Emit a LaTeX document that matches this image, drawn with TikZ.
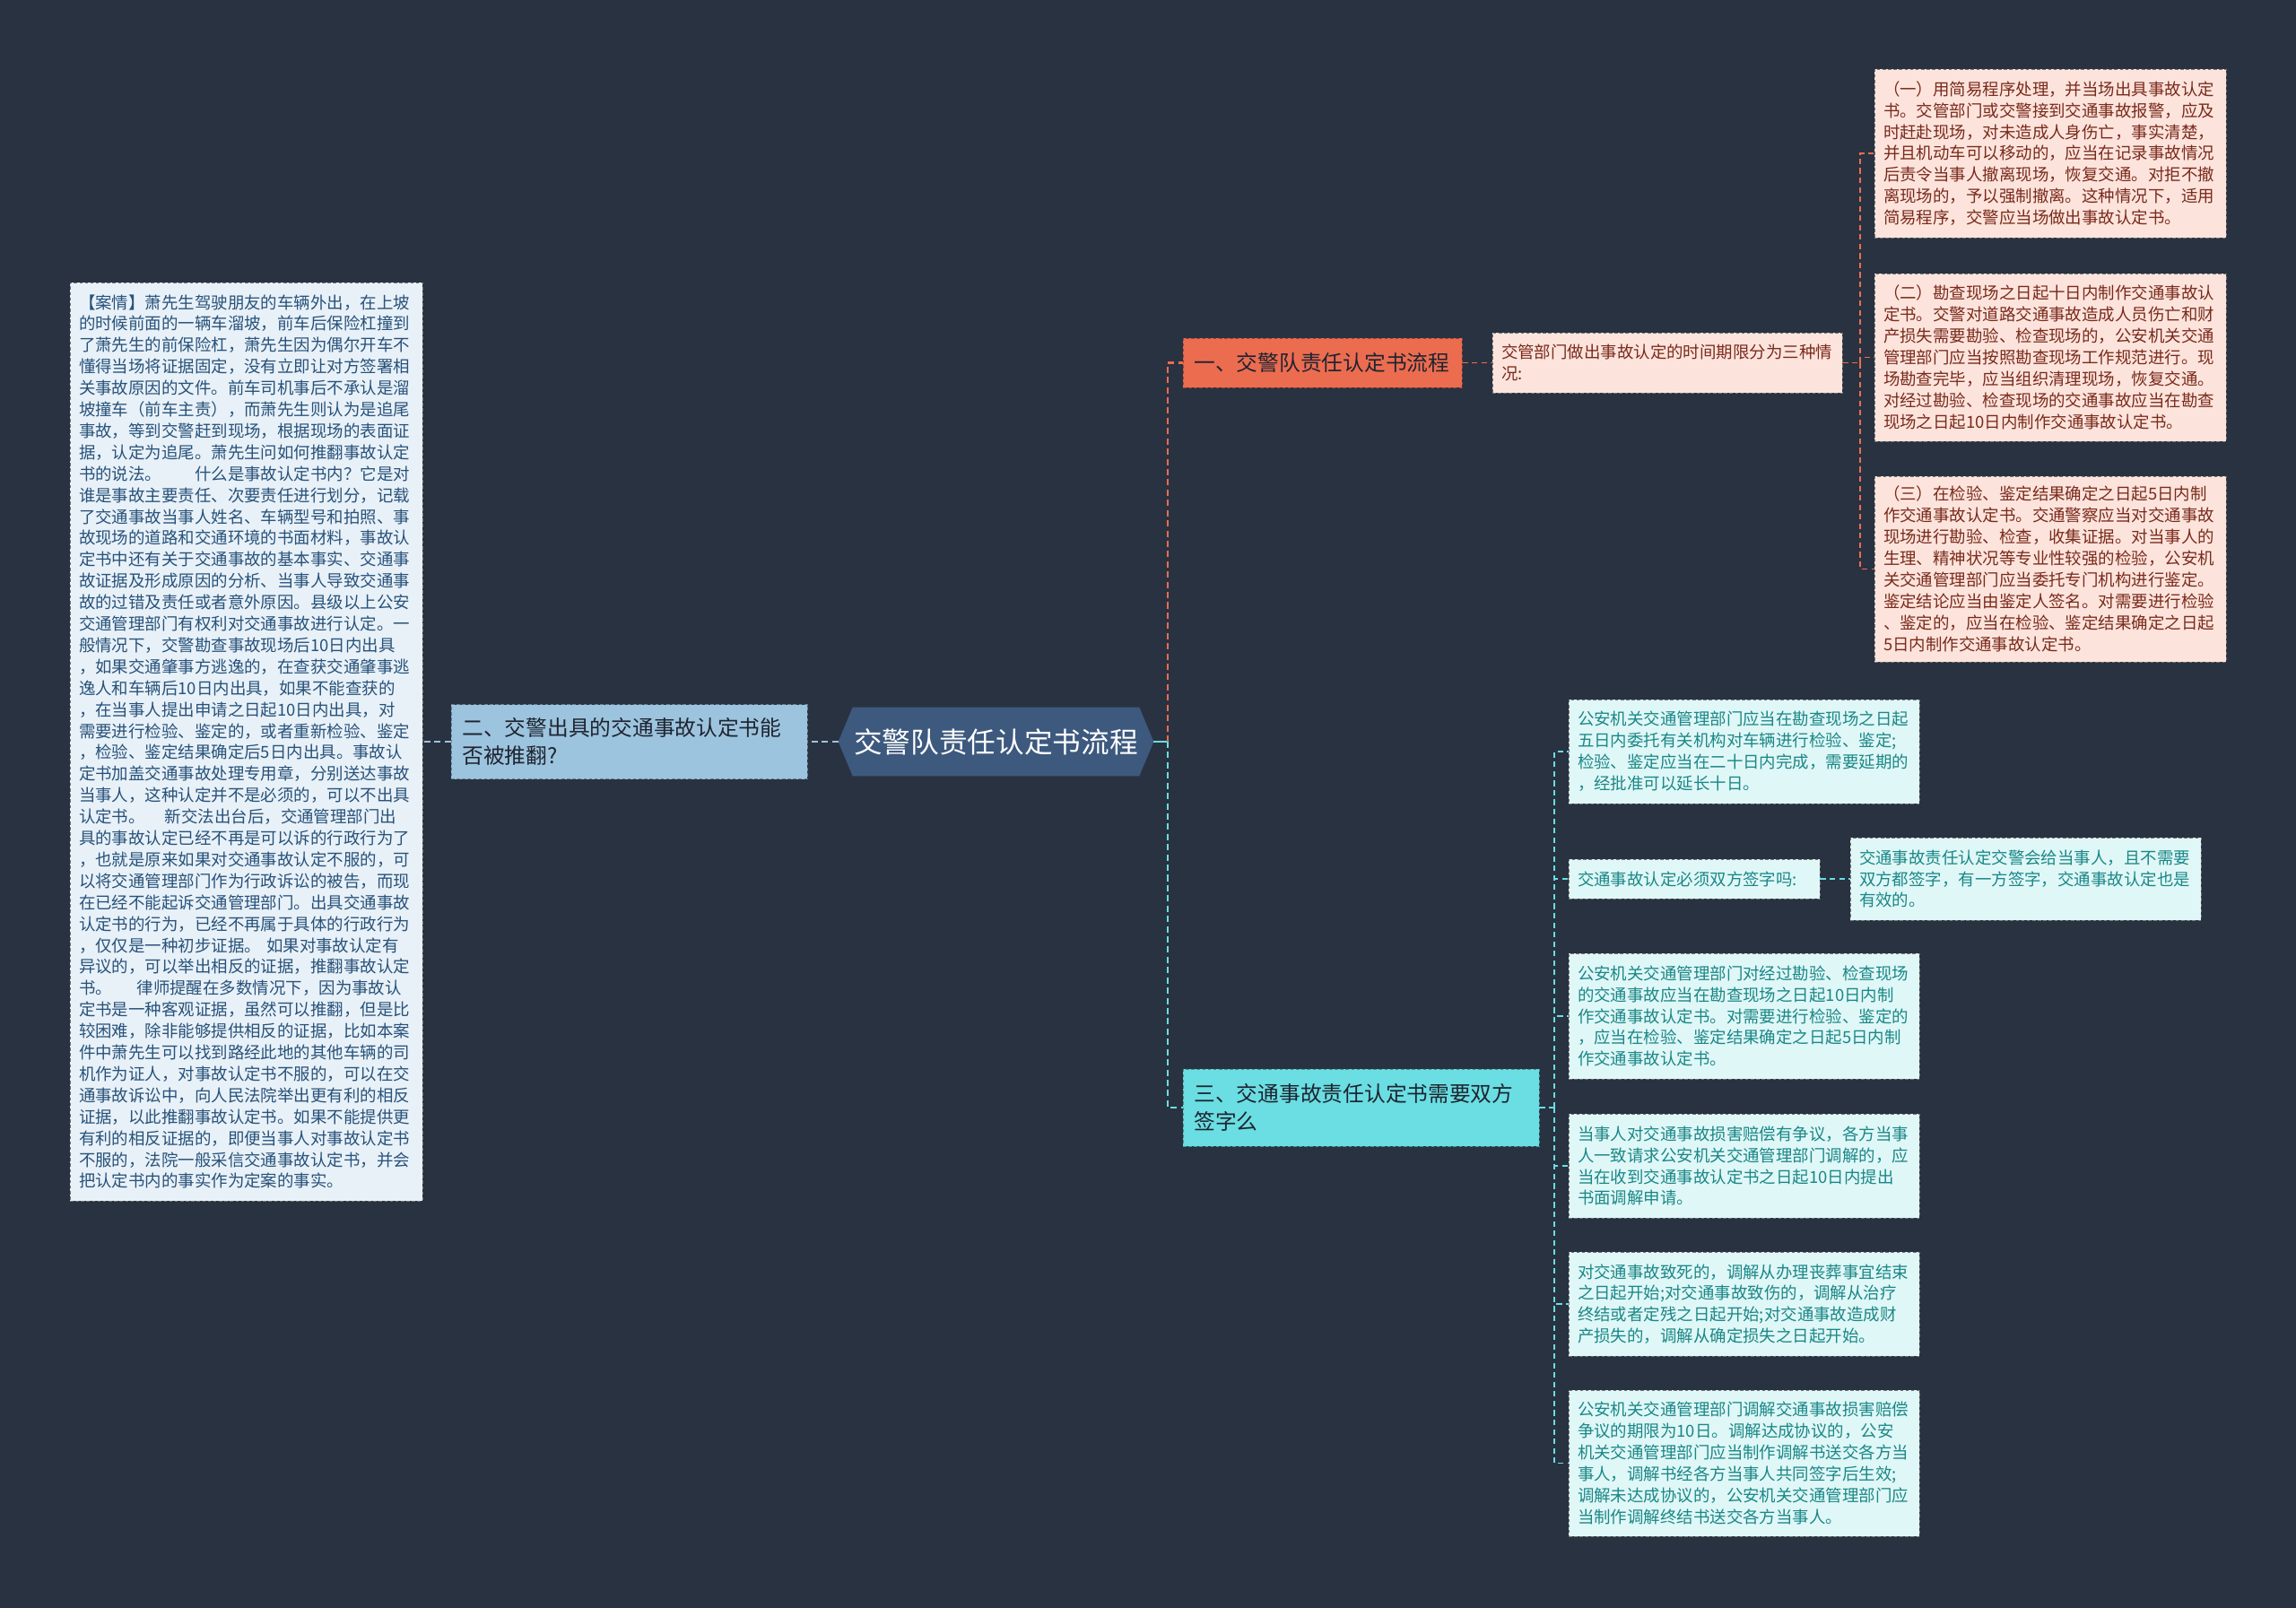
\documentclass[tikz,border=0pt]{standalone}
\usepackage{fontspec}
\setmainfont{Noto Sans CJK SC}
\usetikzlibrary{calc,backgrounds}
\definecolor{jtBg}{RGB}{41,50,65}
\definecolor{jtRoot}{RGB}{61,89,126}
\definecolor{jtOrange}{RGB}{236,108,80}
\definecolor{jtPink}{RGB}{252,228,220}
\definecolor{jtRust}{RGB}{122,42,28}
\definecolor{jtSky}{RGB}{157,196,222}
\definecolor{jtCyan}{RGB}{106,222,226}
\definecolor{jtMint}{RGB}{224,247,247}
\definecolor{jtTeal}{RGB}{27,135,135}
\definecolor{jtIce}{RGB}{232,241,248}
\definecolor{jtNavy}{RGB}{40,82,122}
\definecolor{jtInk}{RGB}{30,36,48}

\begin{document}
\begin{tikzpicture}
  \tikzset{
    root/.style={minimum width=7.02cm,minimum height=1.52cm,inner sep=0pt,text=white,font=\fontsize{18}{22}\selectfont},
    branch/.style={draw=#1!65!black,dash pattern=on 2pt off 1.5pt,line width=0.5pt,fill=#1,text=jtInk,align=left,inner xsep=0.25cm,inner ysep=0.05cm,font=\fontsize{13.5}{17.6}\selectfont},
    leaf/.style={draw=black!55,dash pattern=on 2pt off 1.5pt,line width=0.5pt,align=left,inner xsep=0.2cm,inner ysep=0.05cm,font=\fontsize{10.5}{13.6}\selectfont},
    pinkleaf/.style={leaf,fill=jtPink,text=jtRust},
    mintleaf/.style={leaf,fill=jtMint,text=jtTeal},
    casebox/.style={leaf,fill=jtIce,text=jtNavy},
    link/.style={line width=1.4pt,dash pattern=on 4pt off 2.5pt},
    twig/.style={line width=0.9pt,dash pattern=on 3.5pt off 2.5pt}
  }
  \useasboundingbox (0,0) rectangle (51.2,-35.86);

  \node[root] (root) at (22.21,-16.54) {交警队责任认定书流程};
  \node[branch=jtOrange,text width=5.72cm,minimum height=1.10cm] (b1) at (29.49,-8.09) {一、交警队责任认定书流程};
  \node[branch=jtSky,text width=7.44cm,minimum height=1.66cm] (b2) at (14.03,-16.54) {二、交警出具的交通事故认定书能\\否被推翻?};
  \node[branch=jtCyan,text width=7.44cm,minimum height=1.72cm] (b3) at (30.35,-24.70) {三、交通事故责任认定书需要双方\\签字么};

  \node[pinkleaf,text width=7.40cm,minimum height=1.34cm] (note) at (37.18,-8.09) {交管部门做出事故认定的时间期限分为三种情\\况:};
  \node[pinkleaf,text width=7.44cm,minimum height=3.76cm] (p1) at (45.72,-3.42) {（一）用简易程序处理，并当场出具事故认定\\书。交管部门或交警接到交通事故报警，应及\\时赶赴现场，对未造成人身伤亡，事实清楚，\\并且机动车可以移动的，应当在记录事故情况\\后责令当事人撤离现场，恢复交通。对拒不撤\\离现场的，予以强制撤离。这种情况下，适用\\简易程序，交警应当场做出事故认定书。};
  \node[pinkleaf,text width=7.44cm,minimum height=3.74cm] (p2) at (45.72,-7.97) {（二）勘查现场之日起十日内制作交通事故认\\定书。交警对道路交通事故造成人员伤亡和财\\产损失需要勘验、检查现场的，公安机关交通\\管理部门应当按照勘查现场工作规范进行。现\\场勘查完毕，应当组织清理现场，恢复交通。\\对经过勘验、检查现场的交通事故应当在勘查\\现场之日起10日内制作交通事故认定书。};
  \node[pinkleaf,text width=7.44cm,minimum height=4.14cm] (p3) at (45.72,-12.69) {（三）在检验、鉴定结果确定之日起5日内制\\作交通事故认定书。交通警察应当对交通事故\\现场进行勘验、检查，收集证据。对当事人的\\生理、精神状况等专业性较强的检验，公安机\\关交通管理部门应当委托专门机构进行鉴定。\\鉴定结论应当由鉴定人签名。对需要进行检验\\、鉴定的，应当在检验、鉴定结果确定之日起\\5日内制作交通事故认定书。};

  \node[casebox,text width=7.46cm,minimum height=20.48cm] (case) at (5.49,-16.54) {【案情】萧先生驾驶朋友的车辆外出，在上坡\\的时候前面的一辆车溜坡，前车后保险杠撞到\\了萧先生的前保险杠，萧先生因为偶尔开车不\\懂得当场将证据固定，没有立即让对方签署相\\关事故原因的文件。前车司机事后不承认是溜\\坡撞车（前车主责），而萧先生则认为是追尾\\事故，等到交警赶到现场，根据现场的表面证\\据，认定为追尾。萧先生问如何推翻事故认定\\书的说法。　　什么是事故认定书内？它是对\\谁是事故主要责任、次要责任进行划分，记载\\了交通事故当事人姓名、车辆型号和拍照、事\\故现场的道路和交通环境的书面材料，事故认\\定书中还有关于交通事故的基本事实、交通事\\故证据及形成原因的分析、当事人导致交通事\\故的过错及责任或者意外原因。县级以上公安\\交通管理部门有权利对交通事故进行认定。一\\般情况下，交警勘查事故现场后10日内出具\\，如果交通肇事方逃逸的，在查获交通肇事逃\\逸人和车辆后10日内出具，如果不能查获的\\，在当事人提出申请之日起10日内出具，对\\需要进行检验、鉴定的，或者重新检验、鉴定\\，检验、鉴定结果确定后5日内出具。事故认\\定书加盖交通事故处理专用章，分别送达事故\\当事人，这种认定并不是必须的，可以不出具\\认定书。\hspace{1.2em}新交法出台后，交通管理部门出\\具的事故认定已经不再是可以诉的行政行为了\\，也就是原来如果对交通事故认定不服的，可\\以将交通管理部门作为行政诉讼的被告，而现\\在已经不能起诉交通管理部门。出具交通事故\\认定书的行为，已经不再属于具体的行政行为\\，仅仅是一种初步证据。 如果对事故认定有\\异议的，可以举出相反的证据，推翻事故认定\\书。\hspace{1.5em}律师提醒在多数情况下，因为事故认\\定书是一种客观证据，虽然可以推翻，但是比\\较困难，除非能够提供相反的证据，比如本案\\件中萧先生可以找到路经此地的其他车辆的司\\机作为证人，对事故认定书不服的，可以在交\\通事故诉讼中，向人民法院举出更有利的相反\\证据，以此推翻事故认定书。如果不能提供更\\有利的相反证据的，即便当事人对事故认定书\\不服的，法院一般采信交通事故认定书，并会\\把认定书内的事实作为定案的事实。};

  \node[mintleaf,text width=7.42cm,minimum height=2.32cm] (m1) at (38.89,-16.76) {公安机关交通管理部门应当在勘查现场之日起\\五日内委托有关机构对车辆进行检验、鉴定;\\检验、鉴定应当在二十日内完成，需要延期的\\，经批准可以延长十日。};
  \node[mintleaf,text width=5.20cm,minimum height=0.88cm] (m2) at (37.78,-19.60) {交通事故认定必须双方签字吗:};
  \node[mintleaf,text width=7.42cm,minimum height=1.84cm] (m2a) at (45.17,-19.60) {交通事故责任认定交警会给当事人，且不需要\\双方都签字，有一方签字，交通事故认定也是\\有效的。};
  \node[mintleaf,text width=7.42cm,minimum height=2.80cm] (m3) at (38.89,-22.66) {公安机关交通管理部门对经过勘验、检查现场\\的交通事故应当在勘查现场之日起10日内制\\作交通事故认定书。对需要进行检验、鉴定的\\，应当在检验、鉴定结果确定之日起5日内制\\作交通事故认定书。};
  \node[mintleaf,text width=7.42cm,minimum height=2.32cm] (m4) at (38.89,-26.00) {当事人对交通事故损害赔偿有争议，各方当事\\人一致请求公安机关交通管理部门调解的，应\\当在收到交通事故认定书之日起10日内提出\\书面调解申请。};
  \node[mintleaf,text width=7.42cm,minimum height=2.32cm] (m5) at (38.89,-29.08) {对交通事故致死的，调解从办理丧葬事宜结束\\之日起开始;对交通事故致伤的，调解从治疗\\终结或者定残之日起开始;对交通事故造成财\\产损失的，调解从确定损失之日起开始。};
  \node[mintleaf,text width=7.42cm,minimum height=3.26cm] (m6) at (38.89,-32.63) {公安机关交通管理部门调解交通事故损害赔偿\\争议的期限为10日。调解达成协议的，公安\\机关交通管理部门应当制作调解书送交各方当\\事人，调解书经各方当事人共同签字后生效;\\调解未达成协议的，公安机关交通管理部门应\\当制作调解终结书送交各方当事人。};

  \coordinate (j1) at (26.04,-16.54);
  \coordinate (j2) at (41.48,-8.09);
  \coordinate (j3) at (34.66,-24.70);

  \draw[jtCyan,line width=1.4pt] (root.east) -- (j1);
  \draw[link,jtOrange] (j1) |- (b1.west);
  \draw[link,jtCyan] (j1) |- (b3.west);
  \draw[link,jtSky] (root.west) -- (b2.east);
  \draw[link,jtSky] (b2.west) -- (case.east);
  \draw[twig,jtOrange] (b1.east) -- (note.west);
  \draw[twig,jtOrange] (note.east) -- (j2);
  \foreach \n in {p1,p2,p3} \draw[twig,jtOrange] (j2) |- (\n.west);
  \draw[twig,jtCyan] (b3.east) -- (j3);
  \foreach \n in {m1,m2,m3,m4,m5,m6} \draw[twig,jtCyan] (j3) |- (\n.west);
  \draw[twig,jtCyan] (m2.east) -- (m2a.west);

  \begin{scope}[on background layer]
    \fill[jtBg] (0,0) rectangle (51.2,-35.86);
    \fill[jtRoot] ($(root.north west)+(0.32,0)$) -- ($(root.north east)+(-0.32,0)$) -- (root.east)
      -- ($(root.south east)+(-0.32,0)$) -- ($(root.south west)+(0.32,0)$) -- (root.west) -- cycle;
  \end{scope}
\end{tikzpicture}
\end{document}
